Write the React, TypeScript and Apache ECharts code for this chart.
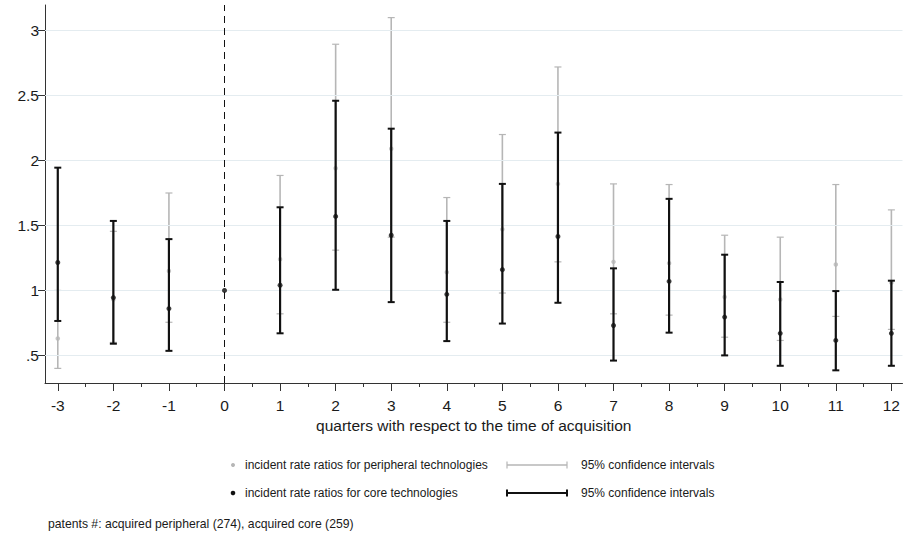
import React, { useEffect, useRef } from "react";
import * as echarts from "echarts";

const quarters = [-3, -2, -1, 0, 1, 2, 3, 4, 5, 6, 7, 8, 9, 10, 11, 12];
const minorTicks = [-2.5, -1.5, -0.5, 0.5, 1.5, 2.5, 3.5, 4.5, 5.5, 6.5, 7.5, 8.5, 9.5, 10.5, 11.5];
const yTicks = [0.5, 1, 1.5, 2, 2.5, 3];

// peripheral technologies (gray)
const periIRR = [0.63, 0.93, 1.15, 1.0, 1.24, 1.94, 2.09, 1.14, 1.47, 1.82, 1.22, 1.21, 0.95, 0.93, 1.2, 1.06];
const periLow = [0.4, 0.6, 0.755, null, 0.82, 1.31, 1.41, 0.755, 0.98, 1.22, 0.82, 0.81, 0.64, 0.615, 0.8, 0.7];
const periHigh = [1.0, 1.455, 1.75, null, 1.885, 2.895, 3.1, 1.715, 2.2, 2.72, 1.82, 1.815, 1.425, 1.41, 1.815, 1.62];

// core technologies (black)
const coreIRR = [1.215, 0.945, 0.86, 1.0, 1.04, 1.57, 1.425, 0.97, 1.16, 1.415, 0.73, 1.07, 0.795, 0.67, 0.615, 0.67];
const coreLow = [0.765, 0.59, 0.535, null, 0.67, 1.005, 0.91, 0.61, 0.745, 0.905, 0.46, 0.675, 0.5, 0.42, 0.385, 0.42];
const coreHigh = [1.945, 1.535, 1.395, null, 1.64, 2.46, 2.245, 1.535, 1.82, 2.215, 1.17, 1.705, 1.275, 1.065, 0.995, 1.075];

const xTitle = "quarters with respect to the time of acquisition";
const legendPeri = "incident rate ratios for peripheral technologies";
const legendCore = "incident rate ratios for core technologies";
const legendCI = "95% confidence intervals";
const footnote = "patents #: acquired peripheral (274), acquired core (259)";

const GRAY = "#b6b6b6";
const BLACK = "#111111";
const FONT = "Arial, 'Liberation Sans', Helvetica, sans-serif";

function ciData(lows: (number | null)[], highs: (number | null)[]) {
  const out: number[][] = [];
  quarters.forEach((q, i) => {
    const lo = lows[i];
    const hi = highs[i];
    if (lo != null && hi != null) out.push([q, lo, hi]);
  });
  return out;
}

function makeRender(color: string, width: number, capW: number, capLW: number) {
  return (params: any, api: any) => {
    const x = api.value(0);
    const lo = api.coord([x, api.value(1)]);
    const hi = api.coord([x, api.value(2)]);
    const half = capW / 2;
    return {
      type: "group",
      children: [
        {
          type: "line",
          shape: { x1: lo[0], y1: lo[1], x2: hi[0], y2: hi[1] },
          style: { stroke: color, lineWidth: width },
        },
        {
          type: "line",
          shape: { x1: lo[0] - half, y1: lo[1], x2: lo[0] + half, y2: lo[1] },
          style: { stroke: color, lineWidth: capLW },
        },
        {
          type: "line",
          shape: { x1: hi[0] - half, y1: hi[1], x2: hi[0] + half, y2: hi[1] },
          style: { stroke: color, lineWidth: capLW },
        },
      ],
    };
  };
}

export default function App() {
  const ref = useRef<HTMLDivElement>(null);
  useEffect(() => {
    if (!ref.current) return;
    const chart = echarts.init(ref.current, undefined, { renderer: "svg" });
    const legendY1 = 465;
    const legendY2 = 493;
    const txt = (text: string, x: number, y: number, size = 12) => ({
      type: "text",
      x,
      y,
      style: { text, fontSize: size, fill: "#1a1a1a", font: `${size}px ${FONT}`, verticalAlign: "middle" },
    });
    chart.setOption({
      animation: false,
      backgroundColor: "#ffffff",
      textStyle: { fontFamily: FONT },
      grid: { left: 45, right: 0, top: 5, bottom: 157 },
      xAxis: [
        {
          type: "value",
          min: -3.23,
          max: 12.2,
          position: "bottom",
          name: xTitle,
          nameLocation: "middle",
          nameGap: 34,
          nameTextStyle: { fontSize: 15.5, color: "#1a1a1a", fontFamily: FONT },
          axisLine: { show: true, onZero: false, lineStyle: { color: "#333", width: 1 } },
          axisTick: { show: true, length: 8, customValues: quarters, lineStyle: { color: "#333" } },
          axisLabel: {
            show: true,
            customValues: quarters,
            margin: 14,
            fontSize: 15.5,
            color: "#1a1a1a",
            fontFamily: FONT,
          },
          splitLine: { show: false },
        },
        {
          type: "value",
          min: -3.23,
          max: 12.2,
          position: "bottom",
          axisLine: { show: false, onZero: false },
          axisTick: { show: true, length: 4, customValues: minorTicks, lineStyle: { color: "#333" } },
          axisLabel: { show: false },
          splitLine: { show: false },
        },
      ],
      yAxis: {
        type: "value",
        min: 0.2875,
        max: 3.197,
        axisLine: { show: true, onZero: false, lineStyle: { color: "#333", width: 1 } },
        axisTick: { show: true, length: 7, customValues: yTicks, lineStyle: { color: "#333" } },
        axisLabel: {
          show: true,
          customValues: yTicks,
          margin: 6,
          fontSize: 15.5,
          color: "#1a1a1a",
          fontFamily: FONT,
          formatter: (v: number) => (v < 1 ? String(v).replace(/^0/, "") : String(v)),
        },
        splitLine: { show: false },
      },
      series: [
        {
          type: "line",
          data: [],
          silent: true,
          markLine: {
            silent: true,
            symbol: "none",
            label: { show: false },
            lineStyle: { color: "#e4ecf0", width: 1, type: "solid" },
            data: yTicks.map((v) => ({ yAxis: v })),
          },
        },
        {
          type: "line",
          data: [],
          silent: true,
          markLine: {
            silent: true,
            symbol: "none",
            label: { show: false },
            lineStyle: { color: "#111", width: 1, type: [7, 5] },
            data: [{ xAxis: 0 }],
          },
        },
        {
          name: "peripheral CI",
          type: "custom",
          renderItem: makeRender(GRAY, 1.6, 7, 1.2),
          data: ciData(periLow, periHigh),
          encode: { x: 0, y: [1, 2] },
          z: 3,
        },
        {
          name: "peripheral IRR",
          type: "scatter",
          symbol: "circle",
          symbolSize: 4.5,
          itemStyle: { color: GRAY },
          data: quarters.map((q, i) => [q, periIRR[i]]),
          z: 4,
        },
        {
          name: "core CI",
          type: "custom",
          renderItem: makeRender(BLACK, 2.2, 7, 2),
          data: ciData(coreLow, coreHigh),
          encode: { x: 0, y: [1, 2] },
          z: 5,
        },
        {
          name: "core IRR",
          type: "scatter",
          symbol: "circle",
          symbolSize: 5,
          itemStyle: { color: BLACK },
          data: quarters.map((q, i) => [q, coreIRR[i]]),
          z: 6,
        },
      ],
      graphic: [
        { type: "circle", shape: { cx: 233, cy: legendY1, r: 2 }, style: { fill: GRAY } },
        txt(legendPeri, 245, legendY1),
        { type: "line", shape: { x1: 507, y1: legendY1, x2: 567, y2: legendY1 }, style: { stroke: GRAY, lineWidth: 1.6 } },
        { type: "line", shape: { x1: 507, y1: legendY1 - 3.5, x2: 507, y2: legendY1 + 3.5 }, style: { stroke: GRAY, lineWidth: 1.2 } },
        { type: "line", shape: { x1: 567, y1: legendY1 - 3.5, x2: 567, y2: legendY1 + 3.5 }, style: { stroke: GRAY, lineWidth: 1.2 } },
        txt(legendCI, 581, legendY1),
        { type: "circle", shape: { cx: 233, cy: legendY2, r: 2.3 }, style: { fill: BLACK } },
        txt(legendCore, 245, legendY2),
        { type: "line", shape: { x1: 507, y1: legendY2, x2: 567, y2: legendY2 }, style: { stroke: BLACK, lineWidth: 2.2 } },
        { type: "line", shape: { x1: 507, y1: legendY2 - 3.5, x2: 507, y2: legendY2 + 3.5 }, style: { stroke: BLACK, lineWidth: 2 } },
        { type: "line", shape: { x1: 567, y1: legendY2 - 3.5, x2: 567, y2: legendY2 + 3.5 }, style: { stroke: BLACK, lineWidth: 2 } },
        txt(legendCI, 581, legendY2),
        txt(footnote, 48, 524, 12.2),
      ],
    });
    return () => chart.dispose();
  }, []);
  return (
    <div
      ref={ref}
      style={{ position: "fixed", left: 0, top: 0, width: 903, height: 540, background: "#fff" }}
    />
  );
}
